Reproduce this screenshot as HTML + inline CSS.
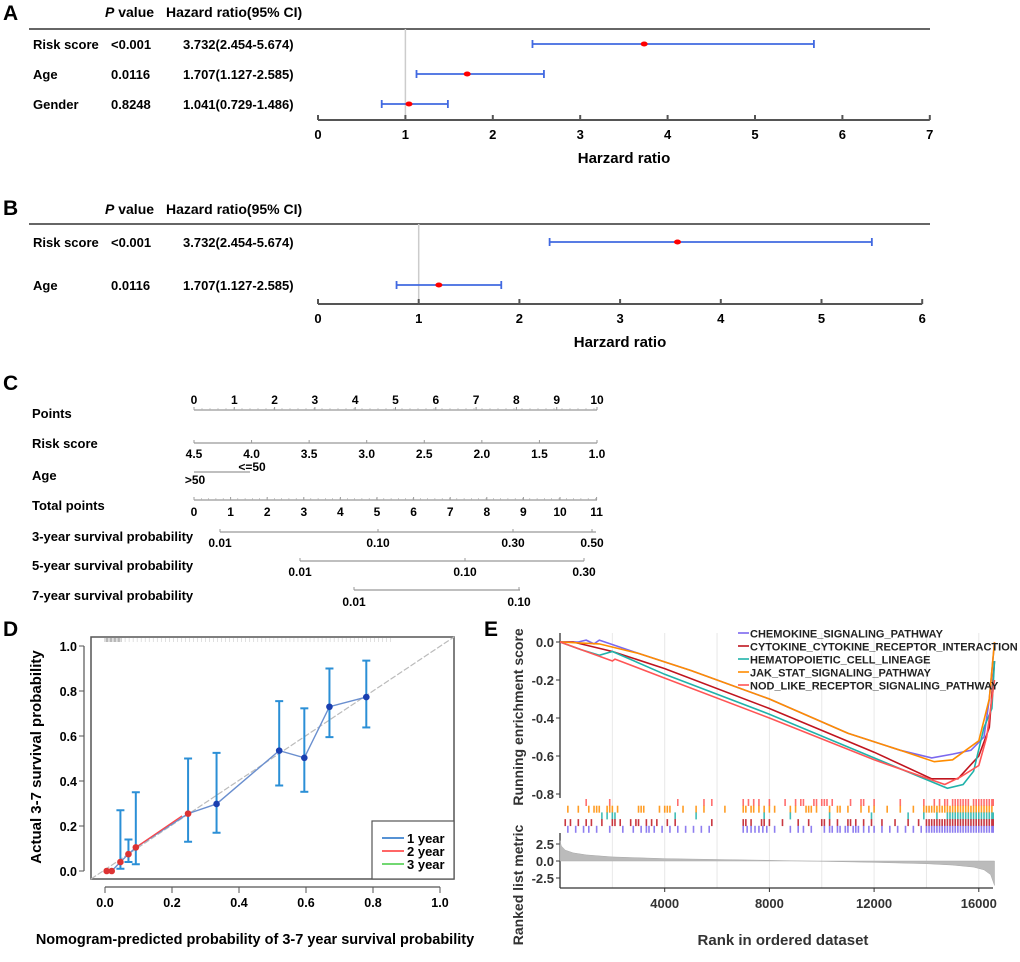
<!DOCTYPE html>
<html><head><meta charset="utf-8"><style>
body{margin:0;background:#fff}
svg{display:block;font-family:"Liberation Sans",Arial,sans-serif;font-weight:bold}
</style></head><body>
<svg id="fig" width="1020" height="962" viewBox="0 0 1020 962">
<g font-size="21">
<text x="3" y="20">A</text>
<text x="3" y="215">B</text>
<text x="3" y="390">C</text>
<text x="3" y="636">D</text>
<text x="484" y="636">E</text>
</g>
<g id="A"></g>
<g id="B"></g>
<g id="C"></g>
<g id="D"></g>
<g id="E"></g>
</svg>
<script>
// ---- Panel A/B data
const forestAVars=["Risk score","Age","Gender"];
const forestAP=["<0.001","0.0116","0.8248"];
const forestAHRText=["3.732(2.454-5.674)","1.707(1.127-2.585)","1.041(0.729-1.486)"];
const forestAHR=[3.732,1.707,1.041];
const forestALo=[2.454,1.127,0.729];
const forestAHi=[5.674,2.585,1.486];
const forestATicks=[0,1,2,3,4,5,6,7];
const forestBVars=["Risk score","Age"];
const forestBP=["<0.001","0.0116"];
const forestBHRText=["3.732(2.454-5.674)","1.707(1.127-2.585)"];
const forestBHR=[3.57,1.2];
const forestBLo=[2.3,0.78];
const forestBHi=[5.5,1.82];
const forestBTicks=[0,1,2,3,4,5,6];
// ---- Panel D data
const calPred=[0.005,0.02,0.046,0.07,0.092,0.248,0.333,0.52,0.595,0.67,0.78];
const calObs=[0.0,0.0,0.04,0.075,0.105,0.255,0.298,0.535,0.503,0.73,0.773];
const calLo=[0,0,0.01,0.04,0.03,0.13,0.17,0.38,0.352,0.595,0.638];
const calHi=[0,0,0.27,0.14,0.35,0.50,0.525,0.755,0.723,0.90,0.935];
const calTicks=[0,0.2,0.4,0.6,0.8,1.0];
// ---- Panel E data
const gseaNames=["CHEMOKINE_SIGNALING_PATHWAY","CYTOKINE_CYTOKINE_RECEPTOR_INTERACTION","HEMATOPOIETIC_CELL_LINEAGE","JAK_STAT_SIGNALING_PATHWAY","NOD_LIKE_RECEPTOR_SIGNALING_PATHWAY"];
const gseaColors=["#7b68ee","#c0151f","#20b2aa","#ff8c00","#ff5555"];
const esRank=[
[0,700,1000,1300,1500,3000,5000,8000,11000,13000,14200,15000,15700,16200,16400,16600],
[0,500,2000,4000,8000,12000,14200,15200,16000,16400,16600],
[0,800,1500,2000,4000,8000,12000,14800,15400,15800,16200,16500,16600],
[0,1500,3000,5000,8000,11000,13000,14300,15000,15500,16000,16400,16600],
[0,2000,2100,4000,8000,12000,14700,15300,16000,16300,16600]];
const esVal=[
[0,0.0,0.01,-0.01,0.01,-0.06,-0.15,-0.30,-0.48,-0.57,-0.61,-0.59,-0.57,-0.50,-0.30,0],
[0,0,-0.05,-0.14,-0.35,-0.58,-0.72,-0.72,-0.60,-0.45,-0.10],
[0,-0.04,-0.07,-0.05,-0.17,-0.38,-0.61,-0.77,-0.75,-0.68,-0.45,-0.35,-0.10],
[0,-0.01,-0.06,-0.15,-0.30,-0.48,-0.57,-0.63,-0.62,-0.57,-0.52,-0.30,0],
[0,-0.10,-0.09,-0.19,-0.40,-0.62,-0.75,-0.71,-0.65,-0.50,-0.20]];
const hitsNOD=[1000,1900,4500,5500,5800,7000,7200,7400,7600,8000,8600,9000,9200,9300,9700,9800,10000,10100,10200,10400,11100,11500,11600,12000,13000,13900,14300,14500,14700,14800,15000,15100,15200,15300,15400,15500,15600,15800,15900,16000,16100,16200,16300,16400,16500,16550];
const hitsJAK=[300,700,1100,1300,1400,1500,1800,1900,2000,2200,3000,3100,3200,3800,4000,4100,4200,4700,5200,5500,6300,7000,7100,7300,7400,7600,7800,8000,8200,8800,9000,9400,9500,9600,9800,10300,10600,10700,11000,11500,11800,12000,12500,13000,13500,13900,14000,14100,14200,14300,14400,14500,14600,14700,14800,14900,15000,15100,15200,15300,15400,15500,15600,15700,15800,15900,16000,16100,16200,16300,16400,16500];
const hitsHEM=[1600,1800,2000,2100,4400,5200,7800,8800,10300,11900,13300,13900,14400,14800,14900,15000,15100,15200,15300,15400,15500,15600,15700,15800,15900,16000,16100,16200,16300,16400,16500,16550];
const hitsCYT=[200,400,700,1000,1200,1600,2000,2100,2300,2700,2900,3000,3300,3500,3700,4100,4400,5800,7000,7100,7300,7700,7800,8000,8500,9100,9500,10000,10100,10300,10600,11000,11100,11300,11600,11900,12300,12800,13300,13700,14000,14100,14200,14300,14400,14500,14600,14700,14800,14900,15000,15100,15200,15300,15400,15500,15600,15700,15800,15900,16000,16100,16200,16300,16400,16500,16550];
const hitsCHE=[300,600,900,1100,1400,1900,2400,2800,3100,3300,3400,3600,3900,4200,4500,4800,5100,5400,5700,7000,7150,7300,7450,7600,7750,7900,8200,8800,9100,9300,9600,10100,10300,10400,10600,10700,10900,11000,11200,11300,11400,11600,11800,12000,12300,12600,12900,13200,13500,13800,14000,14100,14200,14300,14400,14500,14600,14700,14800,14900,15000,15100,15200,15300,15400,15500,15600,15700,15800,15900,16000,16100,16200,16300,16400,16500,16550];
const metricRank=[0,50,200,500,1000,2000,4000,8000,12000,14000,15000,15800,16200,16450,16600];
const metricVal=[3.0,2.2,1.6,1.2,0.9,0.6,0.35,0.1,-0.2,-0.4,-0.6,-0.9,-1.3,-2.0,-3.6];
const gseaXTicks=[4000,8000,12000,16000];
const gseaYTicks=[0.0,-0.2,-0.4,-0.6,-0.8];
const metricTicks=[2.5,0.0,-2.5];

const NS="http://www.w3.org/2000/svg";
function mk(parent,tag,attrs,text){const e=document.createElementNS(NS,tag);for(const k in attrs)e.setAttribute(k,attrs[k]);if(text!==undefined)e.textContent=text;parent.appendChild(e);return e;}

function forest(g,vars,ps,hrt,hr,lo,hi,ticks,cfg){
  const sx=v=>cfg.x0+v*cfg.unit;
  let t=mk(g,'text',{x:105,y:cfg.hy,'font-size':14},'');
  mk(t,'tspan',{'font-style':'italic'},'P');mk(t,'tspan',{},' value');
  
  t=mk(g,'text',{x:166,y:cfg.hy,'font-size':14},'Hazard ratio(95% CI)');
  
  let l=mk(g,'line',{x1:29,x2:930,y1:cfg.hl,y2:cfg.hl,stroke:'#666','stroke-width':2});
  
  l=mk(g,'line',{x1:sx(1),x2:sx(1),y1:cfg.hl,y2:cfg.ay-2,stroke:'#ccc','stroke-width':1.5});
  
  vars.forEach((v,i)=>{
    const y=cfg.rows[i];
    let a=mk(g,'text',{x:33,y:y+5,'font-size':13},v);
    a=mk(g,'text',{x:111,y:y+5,'font-size':13},ps[i]);
    a=mk(g,'text',{x:183,y:y+5,'font-size':13},hrt[i]);
    const c=mk(g,'g',{stroke:'#4169e1','stroke-width':1.8});
    
    mk(c,'line',{x1:sx(lo[i]),x2:sx(hi[i]),y1:y,y2:y});
    mk(c,'line',{x1:sx(lo[i]),x2:sx(lo[i]),y1:y-4,y2:y+4});
    mk(c,'line',{x1:sx(hi[i]),x2:sx(hi[i]),y1:y-4,y2:y+4});
    const d=mk(g,'ellipse',{cx:sx(hr[i]),cy:y,rx:3.5,ry:2.5,fill:'#f00'});
    
  });
  l=mk(g,'line',{x1:sx(ticks[0]),x2:sx(ticks[ticks.length-1]),y1:cfg.ay,y2:cfg.ay,stroke:'#555','stroke-width':2});
  
  ticks.forEach(v=>{mk(g,'line',{x1:sx(v),x2:sx(v),y1:cfg.ay,y2:cfg.ay-5,stroke:'#555','stroke-width':2});
    const tt=mk(g,'text',{x:sx(v),y:cfg.ay+19,'font-size':13,'text-anchor':'middle'},v);
    });
  t=mk(g,'text',{x:cfg.tx,y:cfg.ay+43,'font-size':15,'text-anchor':'middle'},'Harzard ratio');
  
}
forest(document.getElementById('A'),forestAVars,forestAP,forestAHRText,forestAHR,forestALo,forestAHi,forestATicks,
 {x0:318,unit:87.4,hy:17,hl:29,rows:[44,74,104],ay:120,tx:624});
forest(document.getElementById('B'),forestBVars,forestBP,forestBHRText,forestBHR,forestBLo,forestBHi,forestBTicks,
 {x0:318,unit:100.7,hy:214,hl:224,rows:[242,285],ay:304,tx:620});

(function(){
  const g=document.getElementById('C');
  const labels=["Points","Risk score","Age","Total points","3-year survival probability","5-year survival probability","7-year survival probability"];
  const ly=[418,448,480,510,541,570,600];
  labels.forEach((s,i)=>{const t=mk(g,'text',{x:32,y:ly[i],'font-size':13},s);});
  function scale(y,x1,x2,ticks,lab,ly2,minor){
    const l=mk(g,'line',{x1:x1,x2:x2,y1:y,y2:y,stroke:'#999','stroke-width':1.2});
    
    ticks.forEach((x,i)=>{mk(g,'line',{x1:x,x2:x,y1:y,y2:y-3,stroke:'#999'});
      const t=mk(g,'text',{x:x,y:ly2,'font-size':12,'text-anchor':'middle'},lab[i]);
      });
    if(minor) for(let x=x1;x<=x2;x+=minor) mk(g,'line',{x1:x,x2:x,y1:y,y2:y-2,stroke:'#aaa','stroke-width':0.6});
  }
  const p=[0,1,2,3,4,5,6,7,8,9,10];
  scale(410,194,597,p.map(v=>194+v*40.3),p,404,8);
  const rs=["4.5","4.0","3.5","3.0","2.5","2.0","1.5","1.0"];
  scale(443,194,597,rs.map((v,i)=>194+i*57.57),rs,458);
  const tp=[0,1,2,3,4,5,6,7,8,9,10,11];
  scale(500,194,597,tp.map(v=>194+v*36.6),tp,516,7.3);
  scale(532,220,596,[220,378,513,592],["0.01","0.10","0.30","0.50"],547);
  scale(561,300,584,[300,465,584],["0.01","0.10","0.30"],576);
  scale(590,354,520,[354,519],["0.01","0.10"],606);
  mk(g,'line',{x1:194,x2:250,y1:472,y2:472,stroke:'#999','stroke-width':1.2});
  let t=mk(g,'text',{x:252,y:471,'font-size':12,'text-anchor':'middle'},'<=50');
  t=mk(g,'text',{x:195,y:484,'font-size':12,'text-anchor':'middle'},'>50');
})();

(function(){
  const g=document.getElementById('D');
  const sx=v=>105+v*335, sy=v=>871-v*225;
  let r=mk(g,'rect',{x:91,y:637,width:363,height:242,fill:'none',stroke:'#555','stroke-width':1.5});
  
  mk(g,'line',{x1:91,y1:879,x2:454,y2:637,stroke:'#bbb','stroke-width':1.2,'stroke-dasharray':'6,2'});
  for(let v=0.0;v<0.86;v+=0.004){ if(v<0.05||((v*1000)|0)%3==0) mk(g,'line',{x1:sx(v),x2:sx(v),y1:638,y2:642,stroke:v<0.06?'#888':'#ccc','stroke-width':0.6}); }
  mk(g,'line',{x1:sx(0),x2:sx(1),y1:887,y2:887,stroke:'#555','stroke-width':1.2});
  mk(g,'line',{x1:84,x2:84,y1:sy(0),y2:sy(1),stroke:'#555','stroke-width':1.2});
  calTicks.forEach(v=>{
    mk(g,'line',{x1:sx(v),x2:sx(v),y1:887,y2:893,stroke:'#555'});
    let t=mk(g,'text',{x:sx(v),y:907,'font-size':12.5,'text-anchor':'middle'},v.toFixed(1));
    
    mk(g,'line',{x1:84,x2:79,y1:sy(v),y2:sy(v),stroke:'#555'});
    t=mk(g,'text',{x:77,y:sy(v)+5,'font-size':12.5,'text-anchor':'end'},v.toFixed(1));
    
  });
  let d='';calPred.forEach((v,i)=>{d+=(i?'L':'M')+sx(v)+','+sy(calObs[i]);});
  let p=mk(g,'path',{d:d,fill:'none',stroke:'#6a8fcf','stroke-width':1.4});
  
  mk(g,'line',{x1:sx(0.092),y1:sy(0.105),x2:sx(0.23),y2:sy(0.245),stroke:'#f44','stroke-width':1.3});
  calPred.forEach((v,i)=>{
    if(calHi[i]>calLo[i]){
      const e=mk(g,'g',{stroke:'#2b8fd6','stroke-width':2});
      
      mk(e,'line',{x1:sx(v),x2:sx(v),y1:sy(calLo[i]),y2:sy(calHi[i])});
      mk(e,'line',{x1:sx(v)-4,x2:sx(v)+4,y1:sy(calLo[i]),y2:sy(calLo[i])});
      mk(e,'line',{x1:sx(v)-4,x2:sx(v)+4,y1:sy(calHi[i]),y2:sy(calHi[i])});
    }
    const c=mk(g,'circle',{cx:sx(v),cy:sy(calObs[i]),r:3.3,fill:i<6?'#d33':'#1a3fb0'});
    
  });
  const lg=mk(g,'g',{});
  mk(lg,'rect',{x:372,y:821,width:82,height:58,fill:'#fff',stroke:'#555','stroke-width':1.2});
  [['1 year','#1f6fc5'],['2 year','#f33'],['3 year','#4c4']].forEach((s,i)=>{
    const y=838+i*13;
    mk(lg,'line',{x1:382,x2:404,y1:y,y2:y,stroke:s[1],'stroke-width':1.5});
    const t=mk(lg,'text',{x:407,y:y+5,'font-size':13},s[0]);
  });
  let t=mk(g,'text',{x:255,y:944,'font-size':14.5,'text-anchor':'middle'},'Nomogram-predicted probability of 3-7 year survival probability');
  
  t=mk(g,'text',{x:0,y:0,'font-size':15,'text-anchor':'middle',transform:'translate(41,757) rotate(-90)'},'Actual 3-7 survival probability');
  
})();

(function(){
  const g=document.getElementById('E');
  const sx=v=>560+v*104.7/4000, sy=v=>642-v*190, my=v=>861-v*6.8;
  for(let v=2000;v<=16000;v+=2000) mk(g,'line',{x1:sx(v),x2:sx(v),y1:633,y2:888,stroke:'#e8e8e8','stroke-width':1});
  mk(g,'line',{x1:560,x2:560,y1:633,y2:798,stroke:'#333','stroke-width':1.3});
  mk(g,'line',{x1:560,x2:560,y1:833,y2:888,stroke:'#333','stroke-width':1.3});
  mk(g,'line',{x1:560,x2:993,y1:888,y2:888,stroke:'#333','stroke-width':1.3});
  gseaYTicks.forEach(v=>{mk(g,'line',{x1:556,x2:560,y1:sy(v),y2:sy(v),stroke:'#333'});
    const t=mk(g,'text',{x:554,y:sy(v)+5,'font-size':13,'text-anchor':'end',fill:'#333'},v.toFixed(1));
    });
  metricTicks.forEach(v=>{mk(g,'line',{x1:556,x2:560,y1:my(v),y2:my(v),stroke:'#333'});
    const t=mk(g,'text',{x:554,y:my(v)+5,'font-size':13,'text-anchor':'end',fill:'#333'},v.toFixed(1));
    });
  gseaXTicks.forEach(v=>{mk(g,'line',{x1:sx(v),x2:sx(v),y1:888,y2:892,stroke:'#333'});
    const t=mk(g,'text',{x:sx(v),y:908,'font-size':13,'text-anchor':'middle',fill:'#333'},v);
    });
  let d='M'+sx(metricRank[0])+','+my(0);
  metricRank.forEach((r,i)=>{d+='L'+sx(r)+','+my(metricVal[i]);});
  d+='L'+sx(metricRank[metricRank.length-1])+','+my(0)+'Z';
  let p=mk(g,'path',{d:d,fill:'#bbb',stroke:'#aaa','stroke-width':0.5});
  
  const hits=[hitsNOD,hitsJAK,hitsHEM,hitsCYT,hitsCHE];
  const hc=[gseaColors[4],gseaColors[3],gseaColors[2],gseaColors[1],gseaColors[0]];
  hits.forEach((arr,k)=>{const y0=799+k*6.7;
    const hg=mk(g,'g',{stroke:hc[k],'stroke-width':1.6,opacity:0.85});
    
    arr.forEach(r=>mk(hg,'line',{x1:sx(r),x2:sx(r),y1:y0,y2:y0+7}));});
  esRank.forEach((rs,k)=>{let d='';rs.forEach((r,i)=>{d+=(i?'L':'M')+sx(r).toFixed(1)+','+sy(esVal[k][i]).toFixed(1);});
    const c=mk(g,'path',{d:d,fill:'none',stroke:gseaColors[k],'stroke-width':1.6});
    });
  gseaNames.forEach((n,i)=>{const y=633+i*13;
    mk(g,'line',{x1:738,x2:749,y1:y,y2:y,stroke:gseaColors[i],'stroke-width':1.6});
    const t=mk(g,'text',{x:750,y:y+4.5,'font-size':11,fill:'#222'},n);
    });
  let t=mk(g,'text',{x:783,y:945,'font-size':15,'text-anchor':'middle',fill:'#333'},'Rank in ordered dataset');
  
  t=mk(g,'text',{x:0,y:0,'font-size':14,'text-anchor':'middle',fill:'#333',transform:'translate(523,717) rotate(-90)'},'Running enrichment score');
  
  t=mk(g,'text',{x:0,y:0,'font-size':14,'text-anchor':'middle',fill:'#333',transform:'translate(523,885) rotate(-90)'},'Ranked list metric');
  
})();
</script>
</body></html>
